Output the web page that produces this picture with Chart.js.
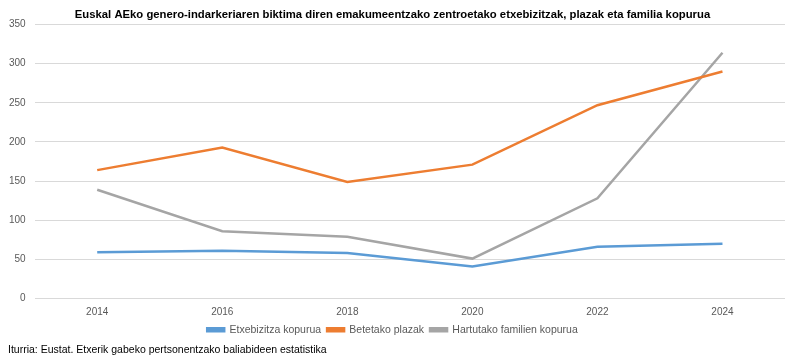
<!DOCTYPE html>
<html>
<head>
<meta charset="utf-8">
<script src="https://cdn.jsdelivr.net/npm/chart.js@4"></script>
<style>
  html, body { margin: 0; padding: 0; background: #fff; }
  #wrap { width: 800px; height: 363px; position: relative; }
</style>
</head>
<body>
<div id="wrap"><canvas id="chart" width="800" height="363"></canvas></div>
<script>
const years = ['2014', '2016', '2018', '2020', '2022', '2024'];
const etxebizitzak = [59, 61, 58, 41, 66, 70];
const plazak = [164, 193, 149, 171, 247, 290];
const familiak = [139, 86, 79, 51, 128, 314];
const yTicks = [0, 50, 100, 150, 200, 250, 300, 350];

const FONT = "'Liberation Sans', sans-serif";
const sourceText = 'Iturria: Eustat. Etxerik gabeko pertsonentzako baliabideen estatistika';

// draw source line under the legend
const sourcePlugin = {
  id: 'sourceLine',
  afterDraw(chart) {
    const { ctx } = chart;
    ctx.save();
    ctx.font = '10.5px ' + FONT;
    ctx.fillStyle = '#000';
    ctx.textBaseline = 'middle';
    ctx.fillText(sourceText, 8, 350);
    ctx.restore();
  },
};

const line = (label, data, color) => ({
  label,
  data,
  borderColor: color,
  backgroundColor: color,
  borderWidth: 2.5,
  pointRadius: 0,
  tension: 0,
});

new Chart(document.getElementById('chart'), {
  type: 'line',
  data: {
    labels: years,
    datasets: [
      line('Etxebizitza kopurua', etxebizitzak, '#5b9bd5'),
      line('Betetako plazak', plazak, '#ed7d31'),
      line('Hartutako familien kopurua', familiak, '#a5a5a5'),
    ],
  },
  options: {
    responsive: false,
    animation: false,
    layout: { padding: { left: 0, right: 15, top: 0, bottom: 18 } },
    plugins: {
      title: {
        display: true,
        text: 'Euskal AEko genero-indarkeriaren biktima diren emakumeentzako zentroetako etxebizitzak, plazak eta familia kopurua',
        color: '#000',
        font: { family: FONT, size: 11.3, weight: 'bold' },
        padding: { top: 8, bottom: 3 },
      },
      legend: {
        position: 'bottom',
        labels: {
          color: '#595959',
          font: { family: FONT, size: 10.5 },
          boxWidth: 17,
          boxHeight: 3,
          padding: 6,
        },
      },
      tooltip: { enabled: false },
    },
    scales: {
      x: {
        offset: true,
        grid: { display: false },
        border: { display: false },
        ticks: { color: '#595959', font: { family: FONT, size: 10 }, padding: 0 },
      },
      y: {
        min: 0,
        max: 350,
        afterBuildTicks(axis) {
          axis.ticks = yTicks.map(v => ({ value: v }));
        },
        grid: { color: '#d9d9d9', drawTicks: false },
        border: { display: false },
        ticks: { color: '#595959', font: { family: FONT, size: 10 }, padding: 9 },
      },
    },
  },
  plugins: [sourcePlugin],
});
</script>
</body>
</html>
